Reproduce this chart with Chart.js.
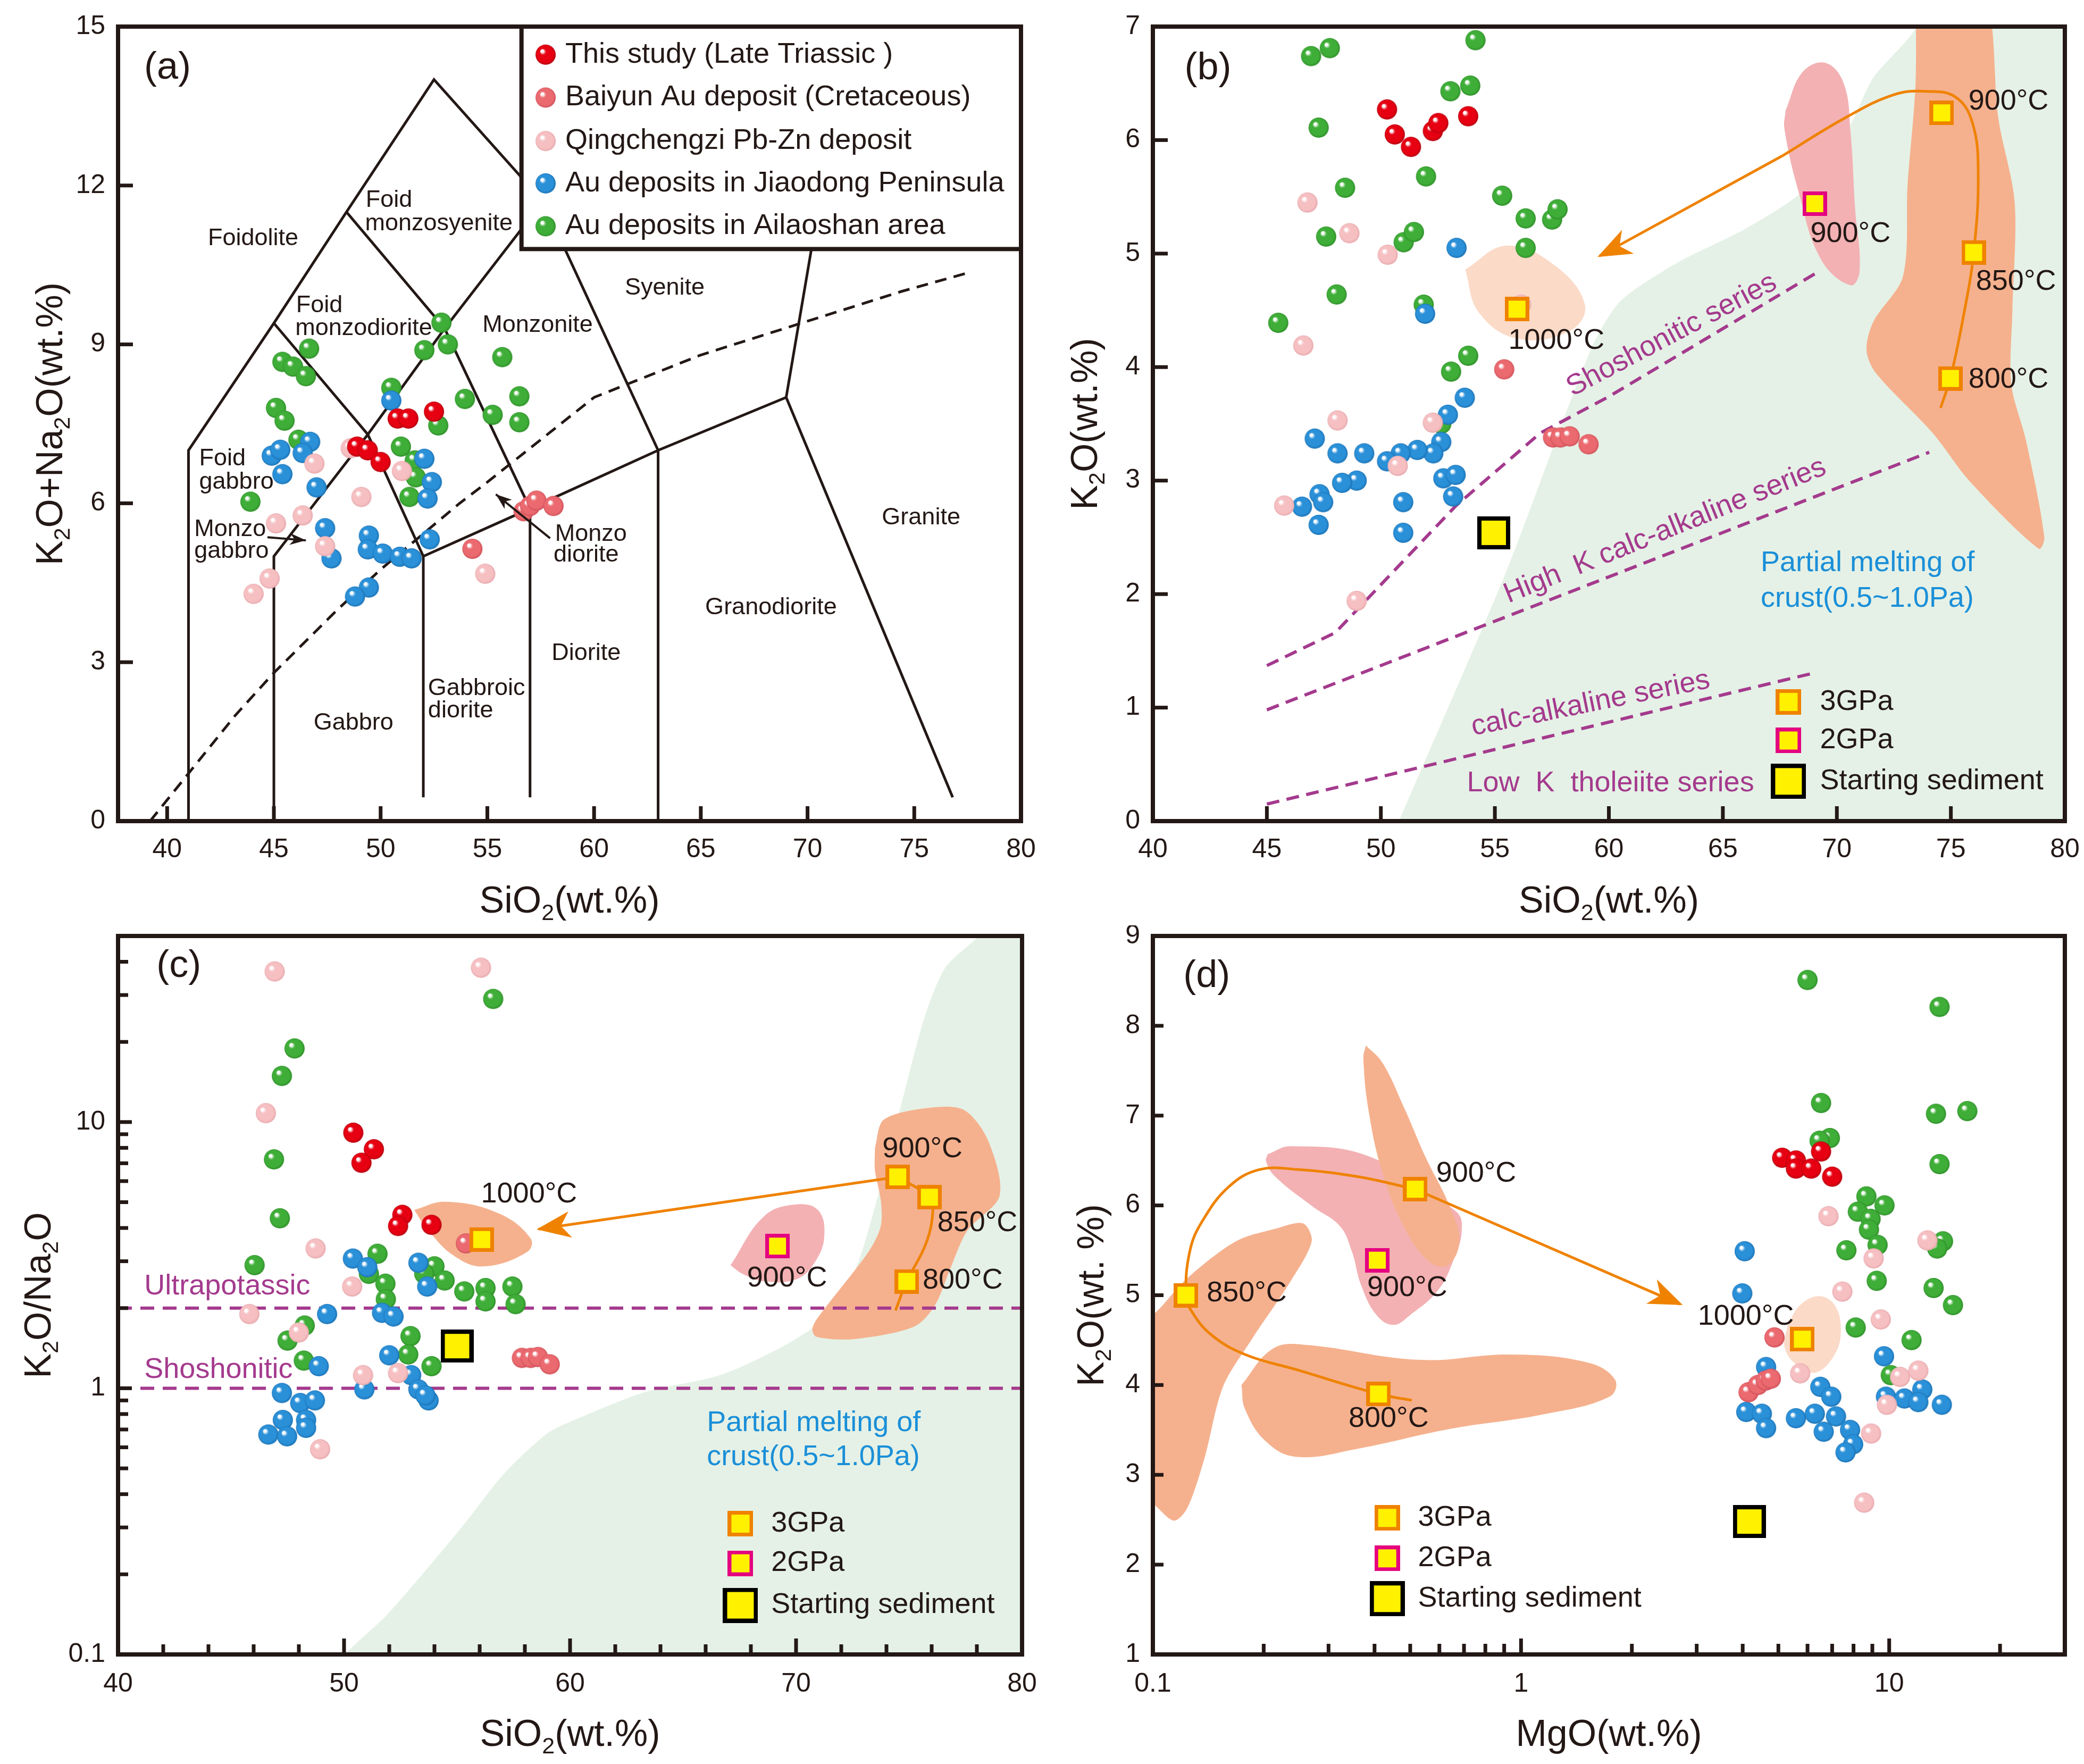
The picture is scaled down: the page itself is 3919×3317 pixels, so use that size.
<!DOCTYPE html>
<html>
<head>
<meta charset="utf-8">
<title>K2O diagrams</title>
<script src="https://cdn.jsdelivr.net/npm/chart.js@4"></script>
<style>
  html, body { margin: 0; padding: 0; background: #fff; }
  body { width: 3919px; height: 3317px; position: relative; overflow: hidden; }
  canvas { position: absolute; }
</style>
</head>
<body>
<canvas id="chartA" width="1960" height="1740" style="left:0px;top:0px"></canvas>
<canvas id="chartB" width="1959" height="1740" style="left:1960px;top:0px"></canvas>
<canvas id="chartC" width="1960" height="1577" style="left:0px;top:1740px"></canvas>
<canvas id="chartD" width="1959" height="1577" style="left:1960px;top:1740px"></canvas>
<script>
// ---------- panel (a): TAS ----------
const aSiO2Ticks = [40, 45, 50, 55, 60, 65, 70, 75, 80];
const aAlkTicks = [0, 3, 6, 9, 12, 15];
const aThisStudy = [[48.9,7.07],[49.4,7.0],[50.0,6.78],[50.8,7.6],[51.3,7.6],[52.5,7.73]];
const aBaiyun = [[56.7,5.85],[57.0,5.95],[57.3,6.05],[58.1,5.95],[54.3,5.14]];
const aQingchengzi = [[46.9,6.75],[46.35,5.77],[45.1,5.62],[47.4,5.19],[49.1,6.12],[48.6,7.04],[51.0,6.61],[54.9,4.67],[44.8,4.58],[44.05,4.29]];
const aJiaodong = [[44.9,6.9],[45.3,7.01],[46.7,7.16],[46.35,6.95],[45.4,6.55],[47.0,6.3],[47.4,5.53],[49.45,5.39],[49.4,5.13],[50.1,5.05],[50.9,4.99],[51.45,4.96],[47.7,4.96],[49.45,4.41],[48.8,4.24],[52.3,5.32],[52.4,6.4],[52.2,6.09],[52.05,6.84],[50.5,7.94]];
const aAilaoshan = [[46.65,8.92],[45.4,8.67],[45.9,8.58],[46.5,8.4],[52.85,9.41],[53.15,9.0],[52.05,8.89],[55.7,8.76],[50.5,8.18],[45.1,7.8],[45.5,7.56],[53.95,7.97],[56.5,8.02],[55.25,7.67],[56.5,7.53],[52.7,7.47],[46.15,7.2],[43.9,6.03],[50.95,7.07],[51.6,6.81],[51.65,6.49],[51.35,6.12]];
const tasOuter = [[41,0],[41,7],[45,9.4],[48.4,11.5],[52.5,14],[57.6,11.7],[63,7],[63,0]];
const tasGabbro = [[45,0],[45,5],[49.4,7.3],[53,9.3],[57.6,11.7]];
const tasFoidMonzodiorite = [[45,9.4],[49.4,7.3],[52,5]];
const tasMonzonite = [[48.4,11.5],[53,9.3],[57,5.9]];
const tasBase = [[52,0.45],[52,5],[57,5.9],[63,7],[69,8],[76.8,0.45]];
const tasDiorite = [[57,0.45],[57,5.9]];
const tasSyenite = [[69,8],[70.9,12.5]];
const tasAlkaline = [[39.2,0],[40,0.4],[43.2,2],[45,2.8],[48,4],[50,4.75],[53.7,6],[55,6.4],[60,8],[65,8.8],[74.4,10],[77.5,10.35]];
const aLegendNames = ['This study (Late Triassic )','Baiyun Au deposit (Cretaceous)','Qingchengzi Pb-Zn deposit','Au deposits in Jiaodong Peninsula','Au deposits in Ailaoshan area'];
const aLegendRows = [14.47, 13.66, 12.84, 12.04, 11.23];

// ---------- panel (b): K2O vs SiO2 ----------
const bSiO2Ticks = [40, 45, 50, 55, 60, 65, 70, 75, 80];
const bK2OTicks = [0, 1, 2, 3, 4, 5, 6, 7];
const bThisStudy = [[50.27,6.27],[50.61,6.05],[51.32,5.94],[52.28,6.08],[52.52,6.15],[53.83,6.21]];
const bBaiyun = [[55.41,3.98],[57.55,3.38],[57.88,3.38],[58.28,3.39],[59.11,3.32]];
const bQingchengzi = [[46.78,5.45],[48.62,5.18],[50.3,4.99],[46.6,4.19],[48.1,3.53],[45.76,2.78],[48.94,1.94],[52.28,3.51],[50.74,3.13],[56.15,4.55]];
const bJiaodong = [[53.32,5.05],[51.94,4.47],[53.68,3.73],[52.94,3.58],[52.65,3.34],[52.3,3.24],[51.6,3.27],[50.87,3.24],[50.27,3.17],[49.27,3.24],[48.1,3.24],[47.1,3.37],[48.94,3.0],[48.3,2.98],[47.31,2.88],[46.54,2.77],[47.47,2.81],[47.27,2.61],[50.98,2.81],[50.98,2.54],[52.74,3.02],[53.28,3.05],[53.17,2.86]];
const bAilaoshan = [[46.94,6.74],[47.76,6.81],[54.15,6.88],[53.05,6.43],[53.92,6.48],[47.27,6.11],[48.43,5.58],[51.98,5.68],[55.32,5.51],[56.35,5.31],[57.51,5.3],[57.75,5.39],[47.6,5.15],[51.0,5.1],[51.45,5.19],[56.35,5.05],[48.06,4.64],[45.5,4.39],[51.88,4.55],[53.08,3.96],[53.83,4.1],[52.65,3.5]];
const b3GPa = [[55.97,4.51],[74.6,6.24],[76.0,5.01],[74.98,3.9]];
const b2GPa = [[69.03,5.44]];
const bStart = [[54.95,2.54]];
const bShoshonitic = [[45,1.37],[48,1.66],[53.3,2.78],[57,3.42],[60,3.74],[69.1,4.83]];
const bHighK = [[45,0.98],[74.05,3.25]];
const bCalcAlk = [[45,0.15],[69.1,1.31]];
const bCrust = [[49.8,-0.5],[50.8,0],[55.5,2.2],[59.2,4.15],[60.5,4.58],[63,4.92],[66,5.22],[68.5,5.55],[70.5,6.1],[71.6,6.55],[73.5,7.0],[74,7.5],[85,7.5],[85,-0.5],[49.8,-0.5]];
const bPeach1000 = [[53.7,4.86],[55.5,5.07],[57.6,4.9],[58.95,4.55],[58.3,4.32],[56.0,4.25],[54.3,4.48],[53.7,4.86]];
const bPink2GPa = [[67.75,6.26],[68.5,6.6],[69.5,6.68],[70.3,6.5],[70.6,6.07],[70.8,5.4],[71.0,4.85],[70.6,4.72],[69.3,4.95],[68.3,5.56],[67.7,6.1],[67.75,6.26]];
const bOrange3GPa = [[73.45,7.4],[76.3,7.4],[77.1,6.17],[77.8,5.45],[77.7,4.5],[77.65,3.85],[78.3,3.35],[79.1,2.5],[78.85,2.4],[75.8,3.0],[74.2,3.42],[71.7,3.95],[71.3,4.15],[71.6,4.4],[72.9,4.8],[73.1,5.6],[73.45,6.5],[73.45,7.4]];
const bTrendCurve = [[74.55,3.64],[75.0,3.92],[75.6,4.5],[76.0,5.0],[76.2,5.7],[75.95,6.15],[75.2,6.38],[73.9,6.43],[72.5,6.4],[70.4,6.2],[67.6,5.86]];
const bTrendLine = [[67.6,5.86],[59.6,4.98]];

// ---------- panel (c): K2O/Na2O vs SiO2 ----------
const cSiO2Ticks = [40, 50, 60, 70, 80];
const cSiO2Minor = [42,44,46,48,52,54,56,58,62,64,66,68,72,74,76,78];
const cRatioTicks = [0.1, 1, 10];
const cRatioMinor = [0.2,0.3,0.4,0.5,0.6,0.7,0.8,0.9,2,3,4,5,6,7,8,9,20,30,40];
const cThisStudy = [[50.41,9.12],[51.32,7.9],[50.77,7.03],[52.58,4.48],[52.39,4.07],[53.87,4.11]];
const cBaiyun = [[55.39,3.5],[57.87,1.3],[58.26,1.3],[58.58,1.31],[59.1,1.23]];
const cQingchengzi = [[46.93,36.8],[56.06,38.0],[46.54,10.8],[48.74,3.35],[50.36,2.41],[45.81,1.9],[48.0,1.62],[50.84,1.12],[52.39,1.14],[48.94,0.59]];
const cJiaodong = [[50.39,3.07],[51.03,2.85],[53.29,2.96],[53.68,2.41],[49.25,1.9],[51.68,1.92],[52.19,1.86],[48.88,1.21],[52.0,1.33],[52.97,1.12],[53.29,0.99],[53.74,0.9],[53.6,0.94],[50.9,0.99],[47.25,0.96],[48.06,0.88],[48.71,0.9],[47.29,0.76],[48.32,0.76],[48.32,0.71],[46.65,0.67],[47.48,0.66]];
const cAilaoshan = [[56.6,29.0],[47.81,18.9],[47.25,14.9],[46.9,7.24],[47.16,4.35],[46.04,2.9],[51.48,3.2],[51.1,2.69],[51.83,2.47],[51.85,2.16],[54.0,2.87],[53.55,2.69],[54.45,2.54],[55.32,2.31],[56.26,2.38],[56.26,2.12],[57.45,2.41],[57.59,2.07],[48.26,1.72],[47.5,1.51],[48.22,1.27],[52.94,1.57],[52.84,1.34],[53.87,1.21]];
const c3GPa = [[56.09,3.62],[74.5,6.22],[75.9,5.22],[74.9,2.52]];
const c2GPa = [[69.18,3.42]];
const cStart = [[55.0,1.44]];
const cUltrapotassic = [[40,2],[80,2]];
const cShoshonitic = [[40,1],[80,1]];
const cCrust = [[49.5,0.08],[50.06,0.1],[51.94,0.142],[55.16,0.297],[57.1,0.48],[59.03,0.68],[60.5,0.78],[63.36,0.97],[66.64,1.12],[69.5,1.45],[71.5,1.9],[72.7,2.9],[73.4,4.5],[74.0,7.0],[74.8,13],[75.7,25],[76.6,38],[78.1,50],[79,60],[85,60],[85,0.08],[49.5,0.08]];
const cOrange1000 = [[53.1,4.68],[54.5,5.02],[56.84,4.54],[58.26,3.65],[58.1,3.25],[56.19,2.87],[54.9,3.13],[53.74,3.9],[53.1,4.68]];
const cPink2GPa = [[67.1,2.9],[68.6,4.44],[70.07,4.91],[71.0,4.64],[71.25,3.73],[70.86,3.0],[70.07,2.58],[68.6,2.52],[67.63,2.69],[67.1,2.9]];
const cOrange3GPa = [[73.49,8.0],[73.88,10.2],[75.86,11.3],[77.43,11.1],[78.49,8.55],[79.01,5.3],[77.57,3.9],[76.78,2.75],[76.12,2.03],[75.2,1.7],[72.57,1.53],[70.9,1.56],[70.72,1.67],[71.0,1.86],[73.22,3.27],[73.75,4.07],[73.75,5.07],[73.49,6.58],[73.49,8.0]];
const cTrendCurve = [[74.4,1.96],[74.9,2.52],[75.75,3.5],[76.05,4.6],[75.9,5.22],[74.5,6.22]];
const cTrendLine = [[74.5,6.22],[58.6,3.96]];

// ---------- panel (d): K2O vs MgO ----------
const dMgOTicks = [0.1, 1, 10];
const dMgOMinor = [0.2,0.3,0.4,0.5,0.6,0.7,0.8,0.9,2,3,4,5,6,7,8,9,20];
const dK2OTicks = [1, 2, 3, 4, 5, 6, 7, 8, 9];
const dThisStudy = [[5.12,6.53],[5.58,6.5],[5.58,6.41],[6.14,6.41],[6.53,6.6],[7.0,6.32]];
const dBaiyun = [[4.88,4.53],[4.15,3.92],[4.4,4.0],[4.62,4.05],[4.77,4.07]];
const dQingchengzi = [[6.84,5.88],[9.07,5.41],[12.7,5.61],[7.46,5.04],[9.49,4.73],[5.73,4.13],[10.7,4.09],[12.0,4.16],[9.86,3.78],[8.93,3.46],[8.55,2.69]];
const dJiaodong = [[4.05,5.49],[3.99,5.02],[4.63,4.2],[4.09,3.7],[4.51,3.68],[4.63,3.52],[5.58,3.63],[6.28,3.68],[6.5,3.98],[6.96,3.87],[7.17,3.65],[6.64,3.48],[7.83,3.5],[7.98,3.34],[7.61,3.25],[9.68,4.32],[9.8,3.87],[11.0,3.85],[12.3,3.95],[12.0,3.81],[13.9,3.78]];
const dAilaoshan = [[6.0,8.51],[13.7,8.21],[6.53,7.14],[13.4,7.02],[16.3,7.05],[6.9,6.75],[6.47,6.72],[13.7,6.46],[8.67,6.1],[9.71,6.0],[8.22,5.93],[8.9,5.85],[8.81,5.73],[9.3,5.56],[7.65,5.5],[14.0,5.6],[13.5,5.52],[9.25,5.16],[13.2,5.08],[14.9,4.89],[8.11,4.64],[11.5,4.5],[10.1,4.11]];
const d3GPa = [[5.81,4.51],[0.516,6.18],[0.123,5.0],[0.41,3.9]];
const d2GPa = [[0.407,5.39]];
const dStart = [[4.17,2.48]];
const dOrange850 = [[0.09,4.7],[0.1,4.78],[0.124,5.19],[0.168,5.6],[0.215,5.74],[0.256,5.8],[0.27,5.6],[0.237,5.16],[0.185,4.5],[0.155,3.98],[0.138,3.18],[0.124,2.63],[0.114,2.49],[0.1,2.68],[0.09,2.8],[0.09,4.7]];
const dOrange800 = [[0.174,4.0],[0.211,4.4],[0.256,4.45],[0.53,4.28],[0.94,4.34],[1.52,4.25],[1.8,4.06],[1.74,3.87],[1.14,3.67],[0.64,3.51],[0.36,3.29],[0.246,3.2],[0.203,3.37],[0.178,3.73],[0.174,4.0]];
const dOrange900 = [[0.379,7.78],[0.42,7.59],[0.481,7.09],[0.55,6.54],[0.64,5.99],[0.68,5.6],[0.63,5.33],[0.56,5.38],[0.48,5.77],[0.42,6.37],[0.386,7.04],[0.373,7.64],[0.379,7.78]];
const dPink2GPa = [[0.205,6.57],[0.237,6.66],[0.39,6.54],[0.667,5.93],[0.69,5.71],[0.654,5.38],[0.594,5.05],[0.5,4.78],[0.45,4.67],[0.405,4.78],[0.368,5.11],[0.347,5.49],[0.322,5.77],[0.271,5.99],[0.215,6.32],[0.203,6.49],[0.205,6.57]];
const dPeach1000 = [[5.3,4.67],[5.73,4.89],[6.44,4.99],[7.11,4.89],[7.39,4.61],[7.11,4.34],[6.32,4.14],[5.62,4.22],[5.2,4.42],[5.3,4.67]];
const dTrendCurve = [[0.505,3.83],[0.41,3.9],[0.246,4.17],[0.178,4.34],[0.144,4.56],[0.127,4.83],[0.123,5.0],[0.126,5.49],[0.136,5.82],[0.161,6.21],[0.195,6.4],[0.246,6.4],[0.36,6.32],[0.516,6.18]];
const dTrendLine = [[0.516,6.18],[2.7,4.9]];

// ---------- styling ----------
const INK = '#231815';
const PURPLE = '#a43a8d';
const SKY = '#1a8fd8';
const ORANGE = '#ef8200';
const FONT = '"Liberation Sans", Arial, sans-serif';
const CRUST = '#e5f1e6';
const BLOB_OR = '#f5b18e';
const BLOB_PK = '#f3b1b3';
const BLOB_PE = '#fbdac8';

function sphere(base, dark, r) {
  const c = document.createElement('canvas');
  const s = Math.ceil(r * 2) + 2;
  c.width = c.height = s;
  const g = c.getContext('2d');
  const m = s / 2;
  const gr = g.createRadialGradient(m - r * 0.38, m - r * 0.4, r * 0.03, m, m, r);
  gr.addColorStop(0, '#ffffff');
  gr.addColorStop(0.1, '#ffffff');
  gr.addColorStop(0.3, base);
  gr.addColorStop(0.82, base);
  gr.addColorStop(1, dark);
  g.fillStyle = gr;
  g.beginPath();
  g.arc(m, m, r, 0, Math.PI * 2);
  g.fill();
  return c;
}
function square(border, side, bw) {
  const c = document.createElement('canvas');
  c.width = c.height = side;
  const g = c.getContext('2d');
  g.fillStyle = '#fff100';
  g.fillRect(0, 0, side, side);
  g.strokeStyle = border;
  g.lineWidth = bw;
  g.strokeRect(bw / 2, bw / 2, side - bw, side - bw);
  return c;
}
const R = 19;
const imgRed = sphere('#e60012', '#b3000e', R);
const imgSalmon = sphere('#eb6a70', '#cf5058', R);
const imgPink = sphere('#f6c0c3', '#e8a8ac', R);
const imgBlue = sphere('#2a90d8', '#1c72b4', R);
const imgGreen = sphere('#3fae38', '#2e8e29', R);
const sq3 = square(ORANGE, 46, 7);
const sq2 = square('#e4007f', 46, 7);
const sqStart = square('#000000', 62, 8);
const key3 = square(ORANGE, 48, 7);
const key2 = square('#e4007f', 48, 7);
const keyStart = square('#000000', 66, 8);

const xy = arr => arr.map(([x, y]) => ({x, y}));
function pts(arr, img, order) {
  return {data: xy(arr), pointStyle: img, pointRadius: R, showLine: false, order};
}
function path(arr, color, width, dash, order, tension) {
  return {data: xy(arr), showLine: true, borderColor: color, borderWidth: width, borderDash: dash || [],
    pointRadius: 0, fill: false, tension: tension || 0, capBezierPoints: false, order};
}
function blob(arr, color, order, tension) {
  return {data: xy(arr), showLine: true, fill: 'shape', backgroundColor: color, borderColor: 'rgba(0,0,0,0)',
    borderWidth: 0, pointRadius: 0, tension: tension === undefined ? 0.4 : tension, capBezierPoints: false, order};
}
function seriesSets(red, salmon, pink, blue, green) {
  return [pts(red, imgRed, 1), pts(salmon, imgSalmon, 2), pts(pink, imgPink, 3), pts(blue, imgBlue, 4), pts(green, imgGreen, 5)];
}

function axis(type, min, max, labels, isX, size, pad) {
  return {
    type, min, max, position: isX ? 'bottom' : 'left',
    grid: {display: false, drawTicks: false},
    border: {display: false},
    ticks: {color: INK, font: {family: 'Liberation Sans', size: 50}, padding: pad,
      autoSkip: false, maxRotation: 0, minRotation: 0, callback: v => String(v)},
    afterBuildTicks: s => { s.ticks = labels.map(v => ({value: v})); },
    afterFit: s => {
      if (isX) { s.height = size; s.paddingLeft = 0; s.paddingRight = 0; }
      else { s.width = size; s.paddingTop = 0; s.paddingBottom = 0; }
    }
  };
}

function rich(ctx, parts, cx, cy, rot, size) {
  ctx.save();
  ctx.translate(cx, cy);
  ctx.rotate(rot);
  ctx.fillStyle = INK;
  ctx.textAlign = 'left';
  ctx.textBaseline = 'alphabetic';
  const f = s => `${s ? Math.round(size * 0.62) : size}px ${FONT}`;
  let w = 0;
  parts.forEach(([t, s]) => { ctx.font = f(s); w += ctx.measureText(t).width; });
  let x = -w / 2;
  const base = size * 0.36;
  parts.forEach(([t, s]) => {
    ctx.font = f(s);
    ctx.fillText(t, x, base + (s ? size * 0.2 : 0));
    x += ctx.measureText(t).width;
  });
  ctx.restore();
}
function head(ctx, from, tip, len, half, color) {
  const ang = Math.atan2(tip[1] - from[1], tip[0] - from[0]);
  ctx.save();
  ctx.translate(tip[0], tip[1]);
  ctx.rotate(ang);
  ctx.fillStyle = color;
  ctx.beginPath();
  ctx.moveTo(0, 0);
  ctx.lineTo(-len, -half);
  ctx.lineTo(-len * 0.72, 0);
  ctx.lineTo(-len, half);
  ctx.closePath();
  ctx.fill();
  ctx.restore();
}

function makeDecor(cfg) {
  return {
    id: 'decor',
    afterDatasetsDraw(chart) {
      const ctx = chart.ctx, a = chart.chartArea, sx = chart.scales.x, sy = chart.scales.y;
      const px = p => [sx.getPixelForValue(p[0]), sy.getPixelForValue(p[1])];
      ctx.save();
      ctx.beginPath();
      ctx.rect(a.left, a.top, a.right - a.left, a.bottom - a.top);
      ctx.clip();
      (cfg.arrows || []).forEach(ar => {
        const f = px(ar.from), t = px(ar.tip);
        ctx.strokeStyle = INK; ctx.lineWidth = 4;
        ctx.beginPath(); ctx.moveTo(f[0], f[1]); ctx.lineTo(t[0], t[1]); ctx.stroke();
        head(ctx, f, t, 30, 11, INK);
      });
      (cfg.heads || []).forEach(h => head(ctx, px(h.from), px(h.tip), 64, 25, ORANGE));
      if (cfg.legendBox) {
        const [lx, ly] = px(cfg.legendBox);
        ctx.fillStyle = '#ffffff';
        ctx.fillRect(lx, a.top, a.right - lx, ly - a.top);
        ctx.strokeStyle = INK; ctx.lineWidth = 8;
        ctx.strokeRect(lx, a.top, a.right - lx, ly - a.top);
      }
      (cfg.texts || []).forEach(t => {
        const [x, y] = px(t.at);
        ctx.save();
        ctx.font = `${t.size || cfg.textSize}px ${FONT}`;
        ctx.fillStyle = t.color || INK;
        ctx.textAlign = t.align || 'left';
        ctx.textBaseline = t.to ? 'alphabetic' : (t.base || 'middle');
        ctx.translate(x, y);
        if (t.to) { const [x2, y2] = px(t.to); ctx.rotate(Math.atan2(y2 - y, x2 - x)); }
        ctx.fillText(t.t, 0, 0);
        ctx.restore();
      });
      (cfg.keys || []).forEach(k => {
        const [x, y] = px(k.at);
        ctx.drawImage(k.img, x - k.img.width / 2, y - k.img.height / 2);
      });
      ctx.restore();

      ctx.save();
      ctx.strokeStyle = INK;
      ctx.lineWidth = 7;
      (cfg.xTicks || []).forEach(([vals, len]) => vals.forEach(v => {
        const x = sx.getPixelForValue(v);
        ctx.beginPath(); ctx.moveTo(x, a.bottom); ctx.lineTo(x, a.bottom - len); ctx.stroke();
      }));
      (cfg.yTicks || []).forEach(([vals, len]) => vals.forEach(v => {
        const y = sy.getPixelForValue(v);
        ctx.beginPath(); ctx.moveTo(a.left, y); ctx.lineTo(a.left + len, y); ctx.stroke();
      }));
      ctx.lineWidth = 8;
      ctx.strokeRect(a.left, a.top, a.right - a.left, a.bottom - a.top);
      rich(ctx, cfg.xTitle, (a.left + a.right) / 2, a.bottom + 147, 0, 70);
      rich(ctx, cfg.yTitle, a.left - cfg.yGap, (a.top + a.bottom) / 2, -Math.PI / 2, 70);
      ctx.restore();
    }
  };
}

function build(id, datasets, scales, padding, decor) {
  return new Chart(document.getElementById(id), {
    type: 'scatter',
    data: {datasets},
    options: {
      responsive: false, animation: false, devicePixelRatio: 1, events: [],
      layout: {padding},
      plugins: {legend: {display: false}, tooltip: {enabled: false}},
      scales
    },
    plugins: [makeDecor(decor)]
  });
}

const SIO2 = [['SiO', 0], ['2', 1], ['(wt.%)', 0]];

// ---------- (a) ----------
build('chartA',
  [
    ...seriesSets(aThisStudy, aBaiyun, aQingchengzi, aJiaodong, aAilaoshan),
    path(tasOuter, INK, 5, [], 10),
    path(tasGabbro, INK, 5, [], 10),
    path(tasFoidMonzodiorite, INK, 5, [], 10),
    path(tasMonzonite, INK, 5, [], 10),
    path(tasBase, INK, 5, [], 10),
    path(tasDiorite, INK, 5, [], 10),
    path(tasSyenite, INK, 5, [], 10),
    path(tasAlkaline, INK, 5, [22, 14], 10)
  ],
  {x: axis('linear', 37.7, 80, aSiO2Ticks, true, 196, 24), y: axis('linear', 0, 15, aAlkTicks, false, 222, 24)},
  {left: 0, top: 50, right: 40, bottom: 0},
  {
    textSize: 45,
    xTicks: [[[40,45,50,55,60,65,70,75], 28]], yTicks: [[[3,6,9,12], 28]],
    xTitle: SIO2,
    yTitle: [['K', 0], ['2', 1], ['O+Na', 0], ['2', 1], ['O(wt.%)', 0]], yGap: 130,
    arrows: [{from: [44.7, 5.36], tip: [46.5, 5.3]}, {from: [57.94, 5.34], tip: [55.4, 6.17]}],
    legendBox: [56.6, 10.8],
    keys: [imgRed, imgSalmon, imgPink, imgBlue, imgGreen].map((img, i) => ({img, at: [57.73, aLegendRows[i]]})),
    texts: [
      {at: [38.92, 14.22], t: '(a)', size: 72},
      {at: [41.91, 11.0], t: 'Foidolite'},
      {at: [49.3, 11.72], t: 'Foid'}, {at: [49.27, 11.28], t: 'monzosyenite'},
      {at: [46.04, 9.73], t: 'Foid'}, {at: [46.0, 9.3], t: 'monzodiorite'},
      {at: [54.77, 9.36], t: 'Monzonite'},
      {at: [61.44, 10.06], t: 'Syenite'},
      {at: [41.5, 6.84], t: 'Foid'}, {at: [41.5, 6.4], t: 'gabbro'},
      {at: [41.27, 5.51], t: 'Monzo'}, {at: [41.27, 5.09], t: 'gabbro'},
      {at: [48.73, 1.85], t: 'Gabbro', align: 'center'},
      {at: [52.22, 2.5], t: 'Gabbroic'}, {at: [52.22, 2.08], t: 'diorite'},
      {at: [59.63, 3.17], t: 'Diorite', align: 'center'},
      {at: [58.17, 5.42], t: 'Monzo'}, {at: [58.1, 5.02], t: 'diorite'},
      {at: [68.29, 4.03], t: 'Granodiorite', align: 'center'},
      {at: [75.32, 5.73], t: 'Granite', align: 'center'},
      ...aLegendNames.map((t, i) => ({at: [58.65, aLegendRows[i]], t, size: 54}))
    ]
  });

// ---------- (b) ----------
build('chartB',
  [
    pts(b3GPa, sq3, 0), pts(b2GPa, sq2, 0), pts(bStart, sqStart, 0),
    ...seriesSets(bThisStudy, bBaiyun, bQingchengzi, bJiaodong, bAilaoshan),
    path(bTrendCurve, ORANGE, 5, [], 12, 0.4), path(bTrendLine, ORANGE, 5, [], 12),
    path(bShoshonitic, PURPLE, 6, [24, 14], 14), path(bHighK, PURPLE, 6, [24, 14], 14), path(bCalcAlk, PURPLE, 6, [24, 14], 14),
    blob(bOrange3GPa, BLOB_OR, 16, 0.3), blob(bPink2GPa, BLOB_PK, 17), blob(bPeach1000, BLOB_PE, 18),
    blob(bCrust, CRUST, 20, 0.25)
  ],
  {x: axis('linear', 40, 80, bSiO2Ticks, true, 196, 24), y: axis('linear', 0, 7, bK2OTicks, false, 208, 24)},
  {left: 0, top: 50, right: 36, bottom: 0},
  {
    textSize: 54,
    xTicks: [[[45,50,55,60,65,70,75], 28]], yTicks: [[[1,2,3,4,5,6], 28]],
    xTitle: SIO2, yTitle: [['K', 0], ['2', 1], ['O(wt.%)', 0]], yGap: 130,
    heads: [{from: [63.5, 5.37], tip: [59.5, 4.97]}],
    keys: [{img: key3, at: [67.88, 1.05]}, {img: key2, at: [67.88, 0.71]}, {img: keyStart, at: [67.88, 0.35]}],
    texts: [
      {at: [41.39, 6.63], t: '(b)', size: 72},
      {at: [55.59, 4.23], t: '1000°C'},
      {at: [75.77, 6.34], t: '900°C'}, {at: [76.1, 4.75], t: '850°C'}, {at: [75.77, 3.89], t: '800°C'},
      {at: [68.84, 5.17], t: '900°C'},
      {at: [66.66, 2.27], t: 'Partial melting of', color: SKY}, {at: [66.66, 1.96], t: 'crust(0.5~1.0Pa)', color: SKY},
      {at: [58.4, 3.74], to: [68.2, 4.78], t: 'Shoshonitic series', color: PURPLE},
      {at: [55.59, 1.92], to: [70.43, 3.13], t: 'High  K calc-alkaline series', color: PURPLE},
      {at: [54.05, 0.755], to: [64.94, 1.195], t: 'calc-alkaline series', color: PURPLE},
      {at: [53.77, 0.262], t: 'Low  K  tholeiite series', color: PURPLE, base: 'alphabetic'},
      {at: [69.26, 1.05], t: '3GPa'}, {at: [69.26, 0.71], t: '2GPa'}, {at: [69.26, 0.35], t: 'Starting sediment'}
    ]
  });

// ---------- (c) ----------
build('chartC',
  [
    pts(c3GPa, sq3, 0), pts(c2GPa, sq2, 0), pts(cStart, sqStart, 0),
    ...seriesSets(cThisStudy, cBaiyun, cQingchengzi, cJiaodong, cAilaoshan),
    path(cTrendCurve, ORANGE, 5, [], 12, 0.4), path(cTrendLine, ORANGE, 5, [], 12),
    path(cUltrapotassic, PURPLE, 6, [26, 16], 14), path(cShoshonitic, PURPLE, 6, [26, 16], 14),
    blob(cOrange3GPa, BLOB_OR, 16, 0.3), blob(cPink2GPa, BLOB_PK, 17), blob(cOrange1000, BLOB_OR, 18),
    blob(cCrust, CRUST, 20, 0.25)
  ],
  {x: axis('linear', 40, 80, cSiO2Ticks, true, 206, 26), y: axis('logarithmic', 0.1, 50, cRatioTicks, false, 222, 24)},
  {left: 0, top: 18, right: 38, bottom: 0},
  {
    textSize: 54,
    xTicks: [[[50,60,70], 30], [cSiO2Minor, 19]], yTicks: [[[1,10], 26], [cRatioMinor, 19]],
    xTitle: SIO2, yTitle: [['K', 0], ['2', 1], ['O/Na', 0], ['2', 1], ['O', 0]], yGap: 152,
    heads: [{from: [74.5, 6.22], tip: [58.52, 3.95]}],
    keys: [{img: key3, at: [67.54, 0.31]}, {img: key2, at: [67.54, 0.22]}, {img: keyStart, at: [67.54, 0.153]}],
    texts: [
      {at: [41.7, 38.5], t: '(c)', size: 72},
      {at: [56.06, 5.34], t: '1000°C'},
      {at: [73.82, 7.9], t: '900°C'}, {at: [76.25, 4.16], t: '850°C'}, {at: [75.6, 2.54], t: '800°C'},
      {at: [67.83, 2.58], t: '900°C'},
      {at: [41.16, 2.41], t: 'Ultrapotassic', color: PURPLE}, {at: [41.16, 1.17], t: 'Shoshonitic', color: PURPLE},
      {at: [66.05, 0.74], t: 'Partial melting of', color: SKY}, {at: [66.05, 0.55], t: 'crust(0.5~1.0Pa)', color: SKY},
      {at: [68.9, 0.31], t: '3GPa'}, {at: [68.9, 0.22], t: '2GPa'}, {at: [68.9, 0.153], t: 'Starting sediment'}
    ]
  });

// ---------- (d) ----------
build('chartD',
  [
    pts(d3GPa, sq3, 0), pts(d2GPa, sq2, 0), pts(dStart, sqStart, 0),
    ...seriesSets(dThisStudy, dBaiyun, dQingchengzi, dJiaodong, dAilaoshan),
    path(dTrendCurve, ORANGE, 5, [], 12, 0.4), path(dTrendLine, ORANGE, 5, [], 12),
    blob(dOrange900, BLOB_OR, 16), blob(dOrange800, BLOB_OR, 16), blob(dOrange850, BLOB_OR, 16, 0.3),
    blob(dPink2GPa, BLOB_PK, 17), blob(dPeach1000, BLOB_PE, 18)
  ],
  {x: axis('logarithmic', 0.1, 30, dMgOTicks, true, 206, 26), y: axis('linear', 1, 9, dK2OTicks, false, 208, 24)},
  {left: 0, top: 18, right: 36, bottom: 0},
  {
    textSize: 54,
    xTicks: [[[1,10], 30], [dMgOMinor, 20]], yTicks: [[[2,3,4,5,6,7,8], 20]],
    xTitle: [['MgO(wt.%)', 0]], yTitle: [['K', 0], ['2', 1], ['O(wt. %)', 0]], yGap: 118,
    heads: [{from: [0.516, 6.18], tip: [2.75, 4.89]}],
    keys: [{img: key3, at: [0.433, 2.52]}, {img: key2, at: [0.433, 2.07]}, {img: keyStart, at: [0.433, 1.62]}],
    texts: [
      {at: [0.121, 8.55], t: '(d)', size: 72},
      {at: [3.02, 4.76], t: '1000°C'},
      {at: [0.588, 6.35], t: '900°C'}, {at: [0.14, 5.02], t: '850°C'}, {at: [0.34, 3.62], t: '800°C'},
      {at: [0.382, 5.08], t: '900°C'},
      {at: [0.525, 2.52], t: '3GPa'}, {at: [0.525, 2.07], t: '2GPa'}, {at: [0.525, 1.62], t: 'Starting sediment'}
    ]
  });
</script>
</body>
</html>
